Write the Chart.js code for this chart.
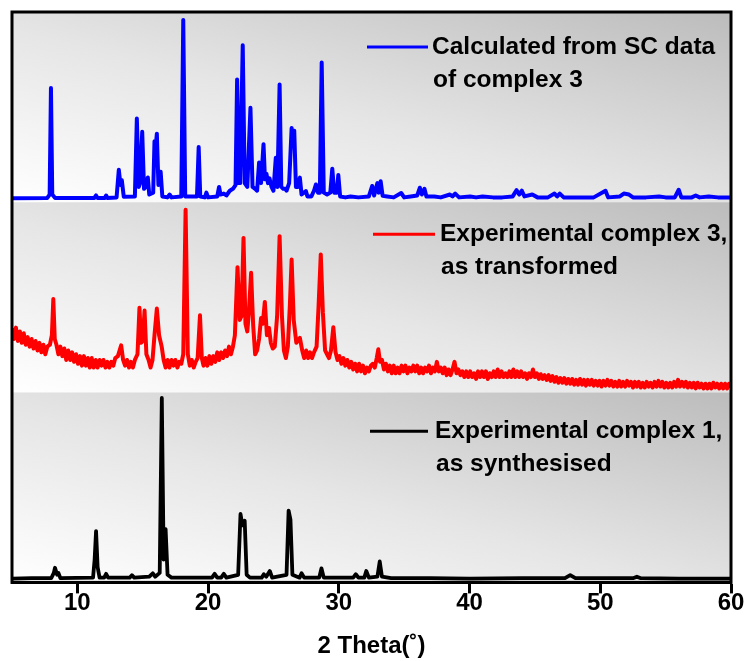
<!DOCTYPE html>
<html>
<head>
<meta charset="utf-8">
<script src="https://cdn.jsdelivr.net/npm/chart.js@4.4.1/dist/chart.umd.min.js"></script>
<style>
  html, body { margin: 0; padding: 0; background: #ffffff; }
  #wrap { width: 746px; height: 661px; }
</style>
</head>
<body>
<div id="wrap"><canvas id="xrd" width="746" height="661"></canvas></div>
<script>
// Powder patterns, 2θ in degrees, intensity in arbitrary units (0–100 per panel)
const xTicks = [10, 20, 30, 40, 50, 60];

const calcTheta = [5.0,7.7,7.88,7.98,8.08,8.3,11.3,11.43,11.55,12.1,12.2,12.3,13.0,13.17,13.3,13.4,13.55,14.4,14.55,14.7,14.8,14.96,15.1,15.25,15.39,15.5,15.8,15.9,15.98,16.08,16.2,16.37,16.5,16.9,17.06,17.2,17.95,18.1,18.25,19.15,19.28,19.4,19.75,19.87,20.0,20.7,20.84,20.95,21.2,21.4,21.66,21.9,22.1,22.22,22.35,22.45,22.65,22.8,23.0,23.24,23.4,23.6,23.75,23.9,24.05,24.24,24.35,24.47,24.58,24.7,24.85,25.0,25.18,25.3,25.47,25.6,25.75,25.9,26.0,26.2,26.39,26.5,26.59,26.72,26.85,27.02,27.15,27.48,27.6,27.9,28.1,28.25,28.4,28.55,28.69,28.85,29.1,29.35,29.5,29.65,29.85,29.96,30.1,30.5,30.9,31.5,32.3,32.55,32.7,32.95,33.05,33.2,33.35,33.7,34.2,34.77,35.0,35.5,36.0,36.2,36.35,36.55,36.7,37.3,37.8,38.5,38.7,38.9,39.2,40.05,40.5,41.0,41.8,42.5,43.3,43.6,43.8,44.0,44.2,44.8,45.2,46.0,46.5,46.7,46.9,47.2,48.5,49.5,50.4,50.6,51.5,51.8,52.2,52.5,53.5,54.5,55.0,55.7,56.0,56.2,57.0,57.3,57.6,58.3,59.0,60.0];
const calcCounts = [2,2.2,4,60,4,2.2,2.2,3.5,2.2,2.2,3.5,2.2,2.5,17,9,11.5,2.8,3,44,8,10,37,7,8,13,4,5,32,28,36,9,16,3,2.5,4,2.5,3,95.8,3,3,29,3,2.5,5,2.5,3,8,4,4.5,3.5,6,7,9,64.5,10,10,82.5,10,8,49.6,8,7,6,20.8,10,30.5,12,14.8,10,12.5,8,6,23.4,8,61.9,8,7,7,6,10,39,30,37.6,8,8,12.9,4,5.8,3,3,6,9.3,5,5,73.4,5,4,5,17.6,5,5,14.3,3,2.5,3,2.5,3,8.5,3.5,10,5,11,3.3,3,2.5,4.8,2.5,3,3.5,7.6,4,7,3,3,2.5,4,3,4.5,2.5,3,2.5,3,2.5,2.5,3,6.3,4,6,3,4,2.5,2.5,4.5,3,4.5,2.5,2.5,2.5,6,2.5,3,4.5,4,2.5,2.5,3,2.5,2.5,6.5,2.5,2.5,3.5,2.5,3,2.5,2.5];

// [2θ, intensity] readings of the transformed sample
const transPairs = [
  [5.0,33],[5.15,28],[5.3,34],[5.45,27],[5.6,32],[5.75,26],[5.9,31],[6.05,25],[6.2,29],[6.35,24],
  [6.5,28],[6.65,23],[6.8,27],[6.95,22],[7.1,26],[7.25,21],[7.4,25],[7.55,20],[7.7,24],[7.9,25],
  [8.05,30],[8.16,49],[8.27,28],
  [8.4,25],[8.55,20],[8.7,24],[8.85,19],[9.0,23],[9.15,17],[9.3,22],[9.45,17],[9.6,21],[9.75,16],
  [9.9,20],[10.05,15],[10.2,19],[10.35,14],[10.5,19],[10.65,14],[10.8,18],[10.95,13],[11.1,18],[11.25,13],
  [11.4,17],[11.55,13],[11.7,17],[11.85,14],[12.0,17],[12.15,13],[12.3,16],[12.45,13],[12.6,16],[12.75,14],[12.9,18],
  [13.1,19],[13.35,24.7],[13.5,17],
  [13.65,14],[13.8,17],[13.95,13],[14.1,16],[14.25,13],[14.4,17],
  [14.6,20],[14.75,44.4],[14.88,26],[15.0,27],[15.14,43],[15.28,20],
  [15.45,17],[15.6,13],[15.75,17],
  [15.9,30],[16.08,44],[16.25,30],[16.45,24],
  [16.6,17],[16.75,13],[16.9,17],[17.05,13],[17.2,17],[17.35,14],[17.5,17],[17.65,13],[17.8,16],[17.95,15],
  [18.1,20],[18.28,96],[18.45,20],
  [18.6,14],[18.75,17],[18.9,13],[19.05,16],
  [19.2,18],[19.38,40.5],[19.52,18],
  [19.65,14],[19.8,18],[19.95,14],[20.1,19],[20.25,15],[20.4,19],[20.55,16],[20.7,21],[20.85,17],[21.0,21],
  [21.15,18],[21.3,22],[21.45,19],[21.6,24],[21.75,20],[21.9,24],
  [22.05,30],[22.25,65.8],[22.42,38],[22.55,40],[22.71,81.2],[22.86,36],[23.0,32],[23.12,42],[23.29,62.8],
  [23.45,35],[23.6,20],[23.75,22],[23.9,28],[24.05,39],[24.18,36],[24.34,47.5],[24.5,30],[24.66,33.8],
  [24.8,26],[24.95,23],[25.1,24],[25.28,40],[25.47,82.1],[25.65,40],[25.8,22],[25.95,18],[26.1,24],
  [26.25,45],[26.39,69.8],[26.55,38],[26.75,26],[27.02,28.6],
  [27.2,22],[27.35,18],[27.5,22],[27.65,18],[27.8,21],[27.95,18],[28.1,21],
  [28.3,24],[28.45,45],[28.62,72.5],[28.78,42],[28.95,22],[29.1,20],[29.25,18],[29.4,22],[29.58,34.2],
  [29.75,21],[29.9,17],[30.05,19],[30.2,15],[30.35,18],[30.5,14],[30.65,17],[30.8,13],[30.95,16],[31.1,12],
  [31.25,15],[31.4,11],[31.55,15],[31.7,11],[31.85,14],[32.0,10],[32.15,13],[32.3,11],[32.45,14],
  [32.6,15],[32.75,13],[32.9,18],[33.02,22.6],[33.15,16],[33.3,17],
  [33.45,12],[33.6,15],[33.75,11],[33.9,14],[34.05,10],[34.2,14],[34.35,10],[34.5,13],[34.65,10],[34.8,14],
  [34.95,11],[35.1,14],[35.25,10],[35.4,13],[35.55,11],[35.7,14],[35.85,11],[36.0,14],[36.15,10],[36.3,13],
  [36.45,10],[36.6,13],[36.75,11],[36.9,14],[37.05,10],[37.2,13],[37.35,11],
  [37.5,16],[37.65,11],
  [37.8,13],[37.95,10],[38.1,13],[38.25,9],[38.4,12],[38.55,9],[38.7,12],
  [38.85,16],
  [39.0,10],[39.15,12],[39.3,9],[39.45,11],[39.6,8],[39.75,11],[39.9,8],[40.05,11],[40.2,8],[40.35,10],
  [40.5,7],[40.65,11],[40.8,8],[40.95,11],[41.1,8],[41.25,11],[41.4,7],[41.55,10],[41.7,8],[41.85,11],
  [42.0,8],[42.15,12],[42.3,8],[42.45,11],[42.6,8],[42.75,10],[42.9,8],[43.05,11],[43.2,8],[43.35,12],
  [43.5,8],[43.65,11],[43.8,8],[43.95,11],[44.1,8],[44.25,10],[44.4,7],[44.55,10],[44.7,8],
  [44.85,12],
  [45.0,8],[45.15,10],[45.3,7],[45.45,9.5],[45.6,7],[45.75,9],[45.9,6.5],[46.05,9],[46.2,6],[46.35,8.5],
  [46.5,5.5],[46.65,8],[46.8,5],[46.95,7.5],[47.1,5],[47.25,7.5],[47.4,4.5],[47.55,7],[47.7,4.5],[47.85,7],
  [48.0,4],[48.15,6.5],[48.3,4],[48.45,7],[48.6,4],[48.75,6.5],[48.9,3.5],[49.05,6.5],[49.2,4],[49.35,6.5],
  [49.5,3.5],[49.65,6],[49.8,3.5],[49.95,6],[50.1,3],[50.25,6],[50.4,3.5],[50.55,6.5],[50.7,3.5],[50.85,6],
  [51.0,3],[51.15,5.5],[51.3,3],[51.45,6],[51.6,3],[51.75,5.5],[51.9,3],[52.05,6],[52.2,3.5],[52.35,5.5],
  [52.5,2.5],[52.65,5.5],[52.8,3],[52.95,5.5],[53.1,2.5],[53.25,5],[53.4,2.5],[53.55,5.5],[53.7,3],[53.85,5],
  [54.0,2.5],[54.15,5.5],[54.3,3],[54.45,6],[54.6,3],[54.75,5.5],[54.9,2.5],[55.05,5],[55.2,2.5],[55.35,5],
  [55.5,2.5],[55.65,5.5],[55.8,3],[55.95,6.5],[56.1,3],[56.25,5.5],[56.4,3],[56.55,5.5],[56.7,2.5],[56.85,5],
  [57.0,2.5],[57.15,5],[57.3,2],[57.45,5],[57.6,2.5],[57.75,4.5],[57.9,2],[58.05,4.5],[58.2,2],[58.35,4.5],
  [58.5,2],[58.65,5],[58.8,2.5],[58.95,4.5],[59.1,2],[59.25,4.5],[59.4,2],[59.55,4.5],[59.7,2],[59.85,4.5],
  [60.0,3]
];

const synthTheta = [5.0,6.5,8.0,8.2,8.29,8.45,8.55,8.7,11.2,11.32,11.43,11.55,11.7,12.05,12.2,12.35,14.0,14.17,14.35,15.5,15.77,15.95,16.3,16.46,16.6,16.75,16.9,17.2,20.3,20.5,20.7,21.0,21.2,21.4,22.3,22.48,22.62,22.8,22.95,23.2,24.1,24.26,24.45,24.72,24.9,26.0,26.16,26.3,26.45,27.0,27.15,27.35,28.5,28.67,28.85,31.1,31.3,31.5,31.95,32.1,32.3,32.95,33.13,33.3,34.0,37.0,40.0,44.0,47.3,47.7,48.1,52.5,52.8,53.1,56.0,60.0];
const synthCounts = [2,2.2,2.2,5,7.7,4,5,2.2,2.5,12,27,8,2.5,2.5,4.5,2.5,2.5,3.8,2.5,3,4.8,3,5,97,12,28,4,2.5,2.5,4.5,2.5,2.5,4.5,2.5,4,36,30,32.4,4,2.5,2.5,4.3,3,6,2.5,4,37.8,33,4,2.5,4.8,2.5,2.5,7.4,2.5,2.5,4.3,2.5,2.5,6,2.5,3,11,3,2.2,2.2,2,2.2,2.2,3.8,2.2,2.2,3,2.2,2,2];

const seriesNames = [
  ['Calculated from SC data', 'of complex 3'],
  ['Experimental complex 3,', 'as transformed'],
  ['Experimental complex 1,', 'as synthesised']
];
const seriesColors = ['#0000ff', '#ff0000', '#000000'];
const axisTitle = '2 Theta(˚)';

// each pattern lives in its own band of height 100 on the shared y scale
const bandOffsets = [200, 100, 0];

function toPoints(thetas, counts, offset) {
  return thetas.map((t, i) => ({ x: t, y: counts[i] + offset }));
}

const FONT = '"Liberation Sans", Arial, sans-serif';

// gradient-filled panels behind each pattern
const panelBackground = {
  id: 'panelBackground',
  beforeDatasetsDraw(chart) {
    const { ctx, chartArea: a, scales: { y } } = chart;
    const w = a.right - a.left;
    ctx.save();
    for (let k = 0; k < 3; k++) {
      const top = y.getPixelForValue((k + 1) * 100);
      const bot = y.getPixelForValue(k * 100);
      const h = bot - top;
      // isolines parallel to the top-left → bottom-right diagonal
      const f = 2 * w * h / (w * w + h * h);
      const g = ctx.createLinearGradient(a.right, top, a.right - h * f, top + w * f);
      g.addColorStop(0, '#bcbcbc');
      g.addColorStop(0.55, '#e6e6e6');
      g.addColorStop(1, '#ffffff');
      ctx.fillStyle = g;
      ctx.fillRect(a.left, top, w, h);
    }
    ctx.restore();
  }
};

// frame and in-panel legend entries
const frameAndLegend = {
  id: 'frameAndLegend',
  afterDraw(chart) {
    const { ctx, chartArea: a, scales: { y } } = chart;
    ctx.save();
    ctx.strokeStyle = '#000';
    ctx.lineWidth = 3;
    ctx.strokeRect(a.left, a.top, a.right - a.left, a.bottom - a.top);

    const spec = [
      { x0: 367, x1: 428, tx: 432, dy: 35 },
      { x0: 373, x1: 435, tx: 440, dy: 32 },
      { x0: 370, x1: 428, tx: 435, dy: 39 }
    ];
    ctx.font = 'bold 24.5px ' + FONT;
    ctx.textBaseline = 'middle';
    ctx.textAlign = 'left';
    spec.forEach((s, i) => {
      const top = y.getPixelForValue(300 - i * 100);
      const ly = top + s.dy;
      ctx.strokeStyle = seriesColors[i];
      ctx.lineWidth = 3;
      ctx.beginPath();
      ctx.moveTo(s.x0, ly);
      ctx.lineTo(s.x1, ly);
      ctx.stroke();
      ctx.fillStyle = '#000';
      ctx.fillText(seriesNames[i][0], s.tx, ly);
      ctx.fillText(seriesNames[i][1], s.tx + 1, ly + 33);
    });
    ctx.restore();
  }
};

const datasets = [
  { data: toPoints(calcTheta, calcCounts, bandOffsets[0]), borderColor: seriesColors[0], borderWidth: 4 },
  { data: transPairs.map(p => ({ x: p[0], y: p[1] + bandOffsets[1] })), borderColor: seriesColors[1], borderWidth: 4 },
  { data: toPoints(synthTheta, synthCounts, bandOffsets[2]), borderColor: seriesColors[2], borderWidth: 3.8 }
].map(d => Object.assign(d, {
  pointRadius: 0, tension: 0, fill: false, borderJoinStyle: 'round', borderCapStyle: 'round'
}));

new Chart(document.getElementById('xrd'), {
  type: 'line',
  data: { datasets },
  options: {
    responsive: false,
    animation: false,
    layout: { padding: { left: 12, right: 15, top: 12, bottom: 0 } },
    plugins: { legend: { display: false }, tooltip: { enabled: false } },
    scales: {
      x: {
        type: 'linear',
        min: 5,
        max: 60,
        afterBuildTicks(scale) { scale.ticks = xTicks.map(v => ({ value: v })); },
        grid: { drawOnChartArea: false, drawTicks: true, tickLength: 11, tickWidth: 3, tickColor: '#000' },
        border: { display: true, width: 3, color: '#000' },
        ticks: { color: '#000', font: { family: FONT, size: 24, weight: 'bold' }, padding: -4, maxRotation: 0 },
        title: { display: true, text: axisTitle, color: '#000', font: { family: FONT, size: 24, weight: 'bold' }, padding: { top: 18, bottom: 0 } }
      },
      y: { min: 0, max: 300, display: false }
    }
  },
  plugins: [panelBackground, frameAndLegend]
});
</script>
</body>
</html>
